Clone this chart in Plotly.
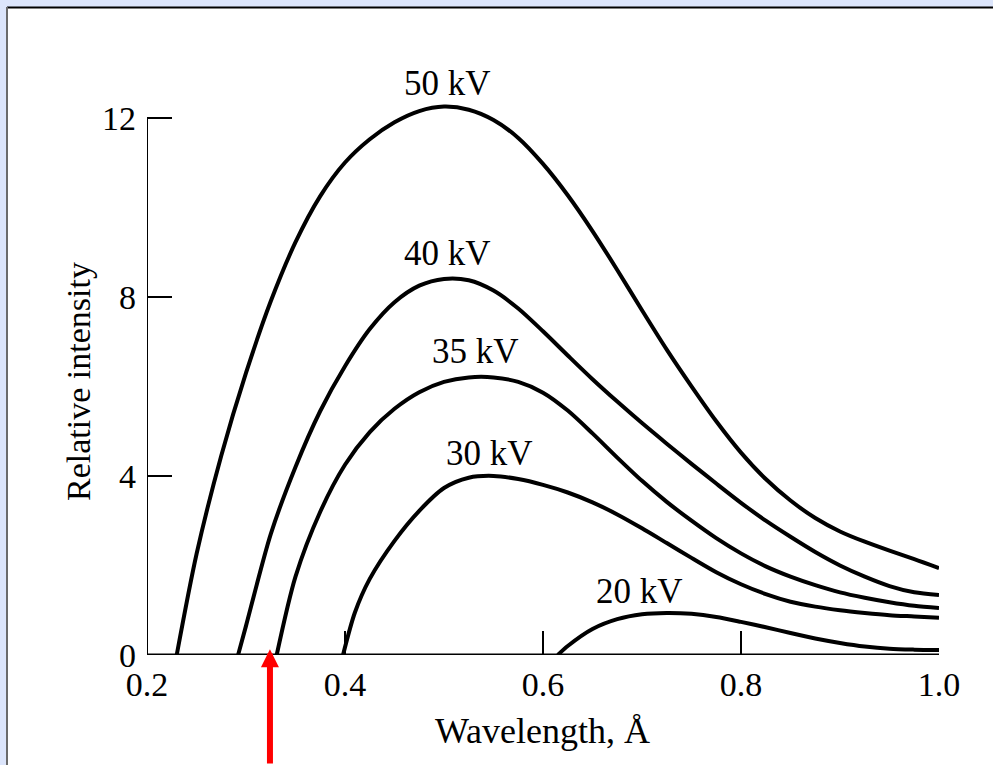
import plotly.graph_objects as go

# ---- data ----
x50 = [0.230, 0.250, 0.275, 0.300, 0.325, 0.350, 0.375, 0.400, 0.425, 0.450, 0.475, 0.500, 0.525, 0.550,
       0.575, 0.600, 0.625, 0.650, 0.675, 0.700, 0.725, 0.750, 0.775, 0.800, 0.825, 0.850, 0.875, 0.900,
       0.925, 0.950, 0.975, 1.000]
y50 = [0.00, 2.25, 4.45, 6.30, 7.90, 9.22, 10.25, 11.00, 11.52, 11.90, 12.15, 12.25, 12.18, 11.95,
       11.55, 10.97, 10.27, 9.47, 8.60, 7.70, 6.82, 6.00, 5.22, 4.52, 3.93, 3.45, 3.06, 2.76,
       2.53, 2.33, 2.14, 1.94]

x40 = [0.292, 0.300, 0.325, 0.350, 0.375, 0.400, 0.425, 0.450, 0.475, 0.500, 0.525, 0.550, 0.575, 0.600,
       0.625, 0.650, 0.675, 0.700, 0.725, 0.750, 0.775, 0.800, 0.825, 0.850, 0.875, 0.900, 0.925, 0.950,
       0.975, 1.000]
y40 = [0.00, 0.65, 2.70, 4.20, 5.45, 6.45, 7.28, 7.88, 8.25, 8.40, 8.37, 8.14, 7.74, 7.23,
       6.69, 6.16, 5.66, 5.18, 4.72, 4.27, 3.83, 3.40, 3.00, 2.64, 2.30, 2.00, 1.75, 1.54,
       1.40, 1.34]

x35 = [0.331, 0.350, 0.375, 0.400, 0.425, 0.450, 0.475, 0.500, 0.525, 0.550, 0.575, 0.600, 0.625, 0.650,
       0.675, 0.700, 0.725, 0.750, 0.775, 0.800, 0.825, 0.850, 0.875, 0.900, 0.925, 0.950, 0.975, 1.000]
y35 = [0.00, 1.75, 3.20, 4.25, 4.98, 5.50, 5.87, 6.10, 6.20, 6.20, 6.10, 5.86, 5.46, 4.95,
       4.41, 3.89, 3.42, 3.00, 2.61, 2.27, 1.98, 1.75, 1.56, 1.40, 1.28, 1.18, 1.10, 1.05]

x30 = [0.398, 0.410, 0.425, 0.450, 0.475, 0.500, 0.525, 0.550, 0.575, 0.600, 0.625, 0.650, 0.675, 0.700,
       0.725, 0.750, 0.775, 0.800, 0.825, 0.850, 0.875, 0.900, 0.925, 0.950, 0.975, 1.000]
y30 = [0.00, 0.95, 1.70, 2.55, 3.22, 3.73, 3.96, 4.00, 3.93, 3.80, 3.63, 3.41, 3.14, 2.83,
       2.50, 2.17, 1.85, 1.58, 1.36, 1.19, 1.08, 1.00, 0.94, 0.89, 0.86, 0.83]

x20 = [0.615, 0.625, 0.650, 0.675, 0.700, 0.725, 0.750, 0.775, 0.800, 0.825, 0.850, 0.875, 0.900,
       0.925, 0.950, 0.975, 1.000]
y20 = [0.00, 0.20, 0.58, 0.80, 0.91, 0.94, 0.92, 0.85, 0.74, 0.62, 0.49, 0.37, 0.27,
       0.19, 0.14, 0.12, 0.11]

labels = ["50 kV", "40 kV", "35 kV", "30 kV", "20 kV"]
label_x = [0.504, 0.504, 0.532, 0.546, 0.697]
label_y = [12.76, 8.96, 6.77, 4.51, 1.41]

x_ticks = [0.2, 0.4, 0.6, 0.8, 1.0]
x_ticktext = ["0.2", "0.4", "0.6", "0.8", "1.0"]
y_ticks = [0, 4, 8, 12]
y_ticktext = ["0", "4", "8", "12"]

arrow_x = 0.3242

FONT = "Liberation Serif, Times New Roman, serif"

fig = go.Figure()
for xs, ys in [(x50, y50), (x40, y40), (x35, y35), (x30, y30), (x20, y20)]:
    fig.add_trace(go.Scatter(x=xs, y=ys, mode="lines",
                             line=dict(color="black", width=4, shape="spline", smoothing=0.8),
                             hoverinfo="skip", showlegend=False))

for t, lx, ly in zip(labels, label_x, label_y):
    fig.add_annotation(x=lx, y=ly, text=t, showarrow=False, font=dict(family=FONT, size=35, color="black"),
                       xanchor="center", yanchor="middle")

# axis lines
fig.add_shape(type="line", x0=0.2, x1=0.2, y0=0, y1=12, xref="x", yref="y", line=dict(color="black", width=2))
fig.add_shape(type="line", x0=0.2, x1=1.0, y0=0, y1=0, xref="x", yref="y", line=dict(color="black", width=3))

# frame (light blue border with dark edge)
fig.add_shape(type="rect", xref="paper", yref="paper", x0=(8 - 147) / 792, x1=(1000 - 147) / 792,
              y0=(655 - 770) / 582, y1=(655 - 8) / 582, fillcolor="white", line=dict(width=0), layer="below")
fig.add_shape(type="line", xref="paper", yref="paper", x0=(7 - 147) / 792, x1=(1000 - 147) / 792,
              y0=(655 - 7.5) / 582, y1=(655 - 7.5) / 582, line=dict(color="black", width=2), layer="below")
fig.add_shape(type="line", xref="paper", yref="paper", x0=(7 - 147) / 792, x1=(7 - 147) / 792,
              y0=(655 - 7) / 582, y1=(655 - 770) / 582, line=dict(color="#6b6b6b", width=2), layer="below")

# axis titles
fig.add_annotation(xref="paper", yref="paper", x=(542 - 147) / 792, y=(655 - 731) / 582, text="Wavelength, Å",
                   showarrow=False, font=dict(family=FONT, size=36, color="black"), xanchor="center", yanchor="middle")
fig.add_annotation(xref="paper", yref="paper", x=(78 - 147) / 792, y=(655 - 382) / 582, text="Relative intensity",
                   showarrow=False, textangle=-90, font=dict(family=FONT, size=34, color="black"),
                   xanchor="center", yanchor="middle")

# red arrow
fig.add_annotation(x=arrow_x, y=0.13, xref="x", yref="y", ax=0, ay=125, axref="pixel", ayref="pixel",
                   text="", showarrow=True, arrowhead=2, arrowsize=0.6, arrowwidth=6, arrowcolor="#ff0000",
                   standoff=0)

fig.update_layout(
    width=993, height=765,
    margin=dict(l=147, r=54, t=73, b=110),
    paper_bgcolor="#dce5fb", plot_bgcolor="rgba(0,0,0,0)",
    showlegend=False,
    xaxis=dict(range=[0.2, 1.0], showline=False, showgrid=False, zeroline=False,
               tickmode="array", tickvals=x_ticks, ticktext=x_ticktext,
               ticks="inside", ticklen=24, tickwidth=1.5, tickcolor="black",
               tickfont=dict(family=FONT, size=34, color="black"), ticklabelstandoff=6),
    yaxis=dict(range=[0, 13.0], showline=False, showgrid=False, zeroline=False,
               tickmode="array", tickvals=y_ticks, ticktext=y_ticktext,
               ticks="inside", ticklen=25, tickwidth=1.5, tickcolor="black",
               tickfont=dict(family=FONT, size=34, color="black"), ticklabelstandoff=10),
)

fig.write_html("out.html")
